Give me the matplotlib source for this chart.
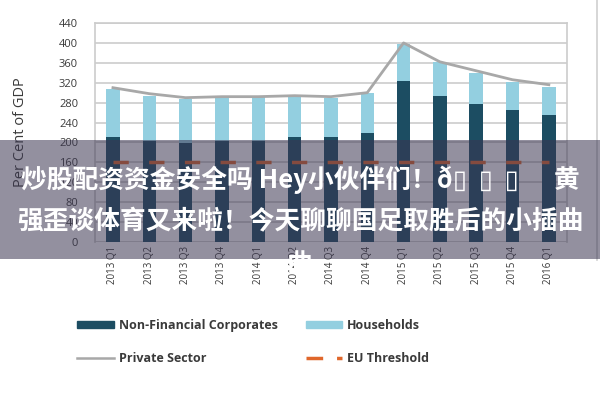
import matplotlib
matplotlib.use("Agg")
import matplotlib.pyplot as plt
import matplotlib.patches as mpatches
from matplotlib.lines import Line2D
import numpy as np

# ── Data ──────────────────────────────────────────────────────────────────────
quarters = ["2013 Q1", "2013 Q2", "2013 Q3", "2013 Q4",
            "2014 Q1", "2014 Q2", "2014 Q3", "2014 Q4",
            "2015 Q1", "2015 Q2", "2015 Q3", "2015 Q4", "2016 Q1"]
non_financial = [210, 202, 198, 202, 202, 210, 210, 218, 324, 294, 278, 266, 256]
households    = [98, 92, 90, 90, 90, 84, 80, 82, 74, 68, 62, 56, 56]
private_sector = [310, 298, 290, 292, 292, 294, 292, 300, 400, 362, 344, 326, 316]
eu_threshold  = [160] * 13
y_ticks = [0, 40, 80, 120, 160, 200, 240, 280, 320, 360, 400, 440]

banner_lines = ["炒股配资资金安全吗 Hey小伙伴们！ð▯  ▯  ▯      黄",
                "强歪谈体育又来啦！今天聊聊国足取胜后的小插曲",
                "曲"]

# ── Style ─────────────────────────────────────────────────────────────────────
NFC_C   = "#1c4d62"
HH_C    = "#93cfe0"
PS_C    = "#a8a8a8"
EU_C    = "#e0672b"
GRID_C  = "#cccccc"
TEXT_C  = "#3a3a3a"

plt.rcParams["font.family"] = ["Open Sans", "DejaVu Sans"]
plt.rcParams["lines.scale_dashes"] = False

fig = plt.figure(figsize=(6, 4), dpi=100)
ax = fig.add_axes([0.158, 0.395, 0.787, 0.5475])

x = np.arange(len(quarters))
ax.bar(x, non_financial, width=0.37, color=NFC_C, zorder=3)
ax.bar(x, households, width=0.37, bottom=non_financial, color=HH_C, zorder=3)
ax.plot(x, private_sector, color=PS_C, lw=2, zorder=4)
ax.plot(x, eu_threshold, color=EU_C, lw=2.5, zorder=4,
        linestyle=(0, (11, 14.7)))

ax.set_xlim(-0.5, len(quarters) - 0.5)
ax.set_ylim(0, 440)
ax.set_yticks(y_ticks)
ax.set_xticks(x)
ax.set_xticklabels(quarters, rotation=90, fontsize=7, color=TEXT_C)
ax.tick_params(axis="y", labelsize=8, colors=TEXT_C, length=0, pad=12)
ax.tick_params(axis="x", length=0, pad=3)
ax.grid(axis="y", color=GRID_C, lw=1.2, zorder=0)
for s in ax.spines.values():
    s.set_color(GRID_C)
    s.set_linewidth(1.2)
ax.spines["bottom"].set_visible(False)
ax.set_ylabel("Per Cent of GDP", fontsize=10.5, color=TEXT_C, labelpad=22)

# ── Legend ────────────────────────────────────────────────────────────────────
handles = [
    mpatches.Patch(color=NFC_C, label="Non-Financial Corporates"),
    Line2D([], [], color=PS_C, lw=1.8, label="Private Sector"),
    mpatches.Patch(color=HH_C, label="Households"),
    Line2D([], [], color=EU_C, lw=2.5, linestyle=(0, (12, 10)),
           label="EU Threshold"),
]
leg = fig.legend(handles=handles, ncol=2, loc="upper left",
                 bbox_to_anchor=(0.11, 0.23), frameon=False,
                 prop={"weight": "bold", "size": 9},
                 handlelength=2.9, handleheight=0.45, handletextpad=0.45,
                 labelspacing=1.55, columnspacing=2.2)
for t in leg.get_texts():
    t.set_color(TEXT_C)

# right border line of the frame
fig.add_artist(Line2D([0.995, 0.995], [0.35, 1.0], color="#d0d0d0", lw=1.2))

# ── Banner overlay ────────────────────────────────────────────────────────────
fig.add_artist(mpatches.Rectangle((0, 1 - 259 / 400), 1, 119 / 400,
                                  transform=fig.transFigure,
                                  facecolor="#3a3550", alpha=0.55,
                                  edgecolor="none", zorder=10))
cjk = ["Noto Sans CJK SC", "DejaVu Sans"]
for line, yc in zip(banner_lines, [180, 222, 264]):
    fig.text(0.5 if line != "曲" else 300 / 600, 1 - yc / 400, line,
             ha="center", va="center", fontsize=18.5, fontweight="bold",
             color="white", family=cjk, zorder=11)

fig.savefig("out.png", dpi=100)
